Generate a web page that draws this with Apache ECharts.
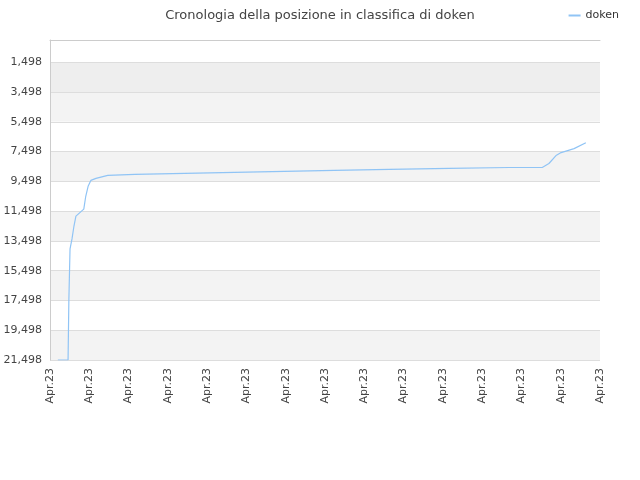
<!DOCTYPE html>
<html>
<head>
<meta charset="utf-8">
<script src="https://cdn.jsdelivr.net/npm/echarts@6/dist/echarts.min.js"></script>
<style>html,body{margin:0;padding:0;background:#fff}#chart{width:640px;height:480px}</style>
</head>
<body>
<div id="chart"></div>
<script>
var xLabels = ['Apr.23', 'Apr.23', 'Apr.23', 'Apr.23', 'Apr.23', 'Apr.23', 'Apr.23', 'Apr.23',
    'Apr.23', 'Apr.23', 'Apr.23', 'Apr.23', 'Apr.23', 'Apr.23', 'Apr.23'];
var posX = [0.20, 0.46, 0.48, 0.51, 0.56, 0.61, 0.66, 0.86, 0.91, 0.97, 1.04, 1.17, 1.47, 2.16,
    3.43, 4.70, 5.97, 7.24, 8.64, 10.16, 11.69, 12.53, 12.70, 12.88, 13.01, 13.34, 13.64];
var rank = [21498, 21498, 17498, 14031, 13365, 12498, 11831, 11365, 10498, 9831, 9431, 9298, 9098, 9031,
    8965, 8898, 8831, 8765, 8698, 8631, 8565, 8565, 8298, 7765, 7565, 7298, 6898];

var points = [];
for (var i = 0; i < posX.length; i++) {
    points.push([posX[i], rank[i]]);
}

var chart = echarts.init(document.getElementById('chart'));
chart.setOption({
    backgroundColor: '#fff',
    animation: false,
    title: {
        text: 'Cronologia della posizione in classifica di doken',
        left: 'center',
        top: 4,
        textStyle: {fontFamily: 'DejaVu Sans', fontSize: 13, fontWeight: 'normal', color: '#444'}
    },
    legend: {
        data: ['doken'],
        right: 16,
        top: 5,
        itemWidth: 12,
        itemHeight: 2,
        icon: 'rect',
        textStyle: {fontFamily: 'DejaVu Sans', fontSize: 11, color: '#333'}
    },
    grid: {left: 50, right: 40, top: 40, bottom: 120},
    xAxis: {
        type: 'value',
        min: 0,
        max: 14,
        interval: 1,
        axisLine: {show: true, lineStyle: {color: '#ccc'}},
        axisTick: {show: false},
        splitLine: {show: false},
        axisLabel: {
            rotate: 90,
            fontFamily: 'DejaVu Sans', fontSize: 11, color: '#444',
            formatter: function (v) { return xLabels[Math.round(v)]; }
        }
    },
    yAxis: {
        type: 'value',
        inverse: true,
        min: 0,
        max: 21498,
        axisLine: {show: true, lineStyle: {color: '#ccc'}},
        axisTick: {show: false, customValues: [1498, 3498, 5498, 7498, 9498, 11498, 13498, 15498, 17498, 19498, 21498]},
        splitLine: {show: true, lineStyle: {color: '#ddd'}},
        splitArea: {show: true, areaStyle: {color: ['#eeeeee', '#f3f3f3', '#ffffff', '#f3f3f3', '#ffffff',
            '#f3f3f3', '#ffffff', '#f3f3f3', '#ffffff', '#f3f3f3', '#ffffff']}},
        axisLabel: {
            fontFamily: 'DejaVu Sans', fontSize: 11, color: '#444',
            customValues: [1498, 3498, 5498, 7498, 9498, 11498, 13498, 15498, 17498, 19498, 21498]
        }
    },
    series: [{
        name: 'doken',
        type: 'line',
        symbol: 'none',
        color: '#90c4f5',
        lineStyle: {width: 1.2},
        data: points
    }]
});
</script>
</body>
</html>
